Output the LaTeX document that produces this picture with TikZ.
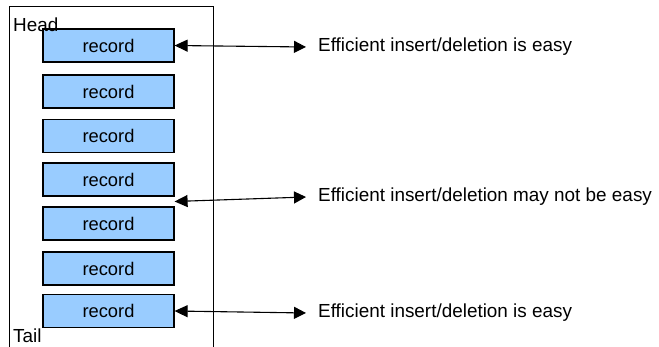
\documentclass[tikz,border=0pt]{standalone}
\usepackage{fontspec}
\setmainfont{Liberation Sans}
\usetikzlibrary{arrows.meta,calc}
\definecolor{recblue}{RGB}{153,204,255}
\begin{document}
\begin{tikzpicture}[x=1pt,y=-1pt,
  txt/.style={font=\fontsize{18.9}{22}\selectfont},
  rectxt/.style={font=\fontsize{18.3}{21}\selectfont},
  rec/.style={draw, line width=1.2pt, fill=recblue, minimum width=131pt, minimum height=33pt, inner sep=0pt, rectxt},
  lbl/.style={anchor=west, inner xsep=12pt, inner ysep=0pt, txt},
  biarrow/.style={{Triangle[length=13pt,width=12pt]}-{Triangle[length=12pt,width=12pt]}, line width=1.1pt}]
\useasboundingbox (0,0) rectangle (659,347);
\draw[line width=0.9pt] (9,6) rectangle (213,370);
\node[rec] (r1) at (108.5,45.5) {record};
\node[rec] (r2) at (108.5,91.5) {record};
\node[rec] (r3) at (108.5,136) {record};
\node[rec] (r4) at (108.5,179.5) {record};
\node[rec] (r5) at (108.5,223.5) {record};
\node[rec] (r6) at (108.5,268.5) {record};
\node[rec] (r7) at (108.5,311) {record};
\node[anchor=base west, inner sep=0pt, txt] (head) at (13,32) {Head};
\node[anchor=base west, inner sep=0pt, txt] (tail) at (13,343) {Tail};
\node[lbl] (t1) at (306,47) {Efficient insert/deletion is easy};
\node[lbl] (t2) at (306,197) {Efficient insert/deletion may not be easy};
\node[lbl] (t3) at (306,313) {Efficient insert/deletion is easy};
\coordinate (m) at ($(r4.south east)!0.5!(r5.north east)$);
\draw[biarrow] (r1.east) -- (t1.west);
\draw[biarrow] (m) -- (t2.west);
\draw[biarrow] (r7.east) -- (t3.west);
\end{tikzpicture}
\end{document}
